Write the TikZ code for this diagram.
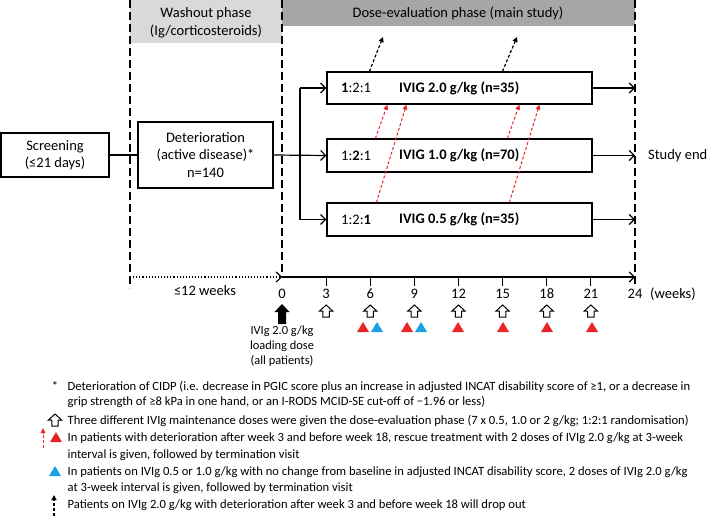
\documentclass[tikz,border=0pt]{standalone}
\usepackage{fontspec}
\setmainfont{Carlito}
\usetikzlibrary{arrows.meta,calc}
\definecolor{lgray}{HTML}{D9D9D9}
\definecolor{dgray}{HTML}{A6A6A6}
\definecolor{myred}{HTML}{E8262A}
\definecolor{myblue}{HTML}{1BA1E2}
\tikzset{
  box/.style={draw, line width=1.2pt, fill=white, inner sep=0pt, align=center, font=\fontsize{14.5}{17.5}\selectfont},
  txt/.style={inner sep=0pt, font=\fontsize{14.5}{17.5}\selectfont},
  conn/.style={line width=1.2pt, -{Straight Barb[length=5pt,width=10pt]}},
  phaseline/.style={line width=1.5pt, dash pattern=on 8pt off 4pt},
  rescue/.style={myred, line width=1pt, dash pattern=on 3pt off 2pt, -{Triangle[length=5pt,width=4.5pt]}},
  dropout/.style={black, line width=1.2pt, dash pattern=on 3pt off 2pt, -{Triangle[length=5pt,width=5pt]}},
  leg/.style={inner sep=0pt, anchor=west, font=\fontsize{12.6}{16}\selectfont, text height=9pt, text depth=3pt},
  openup/.pic={\draw[line width=1pt, fill=white] (0,0) -- (6.5,6) -- (3.2,6) -- (3.2,12) -- (-3.2,12) -- (-3.2,6) -- (-6.5,6) -- cycle;},
  blackup/.pic={\fill[black] (0,0) -- (7.5,8) -- (4,8) -- (4,20) -- (-4,20) -- (-4,8) -- (-7.5,8) -- cycle;},
  tri/.pic={\fill (0,0) -- (6,10) -- (-6,10) -- cycle;}
}
\begin{document}
\begin{tikzpicture}[x=1pt,y=-1pt]
\useasboundingbox (0,0) rectangle (709,516);
% phase headers
\fill[lgray] (130,0) rectangle (282,43);
\fill[dgray] (282,0) rectangle (635,26);
\node[txt, align=center] (wash) at (206,22.5) {Washout phase\\(Ig/corticosteroids)};
\node[txt] (dose) at (458,13) {Dose-evaluation phase (main study)};
% phase boundaries
\coordinate (l1t) at (130,0); \coordinate (l1b) at (130,288);
\coordinate (l2t) at (282,0); \coordinate (l2b) at (282,277);
\coordinate (l3t) at (635,0); \coordinate (l3b) at (635,288);
\draw[phaseline] (l1t) -- (l1b);
\draw[phaseline] (l2t) -- (l2b);
\draw[phaseline] (l3t) -- (l3b);
% boxes
\node[box, minimum width=108pt, minimum height=44pt] (scr) at (55,155) {Screening\\(≤21 days)};
\node[box, minimum width=135pt, minimum height=66pt] (det) at (205.5,155) {Deterioration\\(active disease)*\\n=140};
\node[box, minimum width=265pt, minimum height=32pt] (b1) at (459.5,88) {};
\node[box, minimum width=265pt, minimum height=33pt] (b2) at (459.5,155.5) {};
\node[box, minimum width=265pt, minimum height=33pt] (b3) at (459.5,219.5) {};
\node[txt, anchor=west] (r1) at (341,88) {\textbf{1}:2:1};
\node[txt, anchor=west] (r2) at (341,155.5) {1:\textbf{2}:1};
\node[txt, anchor=west] (r3) at (341,219.5) {1:2:\textbf{1}};
\node[txt, anchor=west, font=\fontsize{14.5}{17.5}\selectfont\bfseries] (d1) at (399,88) {IVIG 2.0 g/kg (n=35)};
\node[txt, anchor=west, font=\fontsize{14.5}{17.5}\selectfont\bfseries] (d2) at (399,155.5) {IVIG 1.0 g/kg (n=70)};
\node[txt, anchor=west, font=\fontsize{14.5}{17.5}\selectfont\bfseries] (d3) at (399,219.5) {IVIG 0.5 g/kg (n=35)};
% connectors
\coordinate (br) at (300,155);
\draw[line width=1.2pt] (scr.east) -- (det.west);
\draw[conn] (det.east) -- (b2.west);
\draw[conn] (br |- b1.west) -- (b1.west);
\draw[conn] (br |- b1.west) |- (b3.west);
\draw[conn] (b1.east) -- (b1.east -| l3t);
\draw[conn] (b2.east) -- (b2.east -| l3t);
\draw[conn] (b3.east) -- (b3.east -| l3t);
\node[txt, anchor=west] (end) at (648,155.5) {Study end};
% rescue arrows
\draw[rescue] ($(b2.north west)+(49,0)$) -- ($(b1.south west)+(61,0)$);
\draw[rescue] ($(b3.north west)+(50,0)$) -- ($(b1.south west)+(80,0)$);
\draw[rescue] ($(b2.north west)+(181,0)$) -- ($(b1.south west)+(193,0)$);
\draw[rescue] ($(b3.north west)+(183,0)$) -- ($(b1.south west)+(213,0)$);
% dropout arrows
\coordinate (o1) at (383,37);
\coordinate (o2) at (517,37);
\draw[dropout] ($(b1.north west)+(43,0)$) -- (o1);
\draw[dropout] ($(b1.north west)+(176,0)$) -- (o2);
% timeline
\coordinate (t0) at (282,277);
\coordinate (t24) at (635,277);
\draw[line width=1.1pt, dotted, -{Straight Barb[length=5pt,width=10pt]}] (l1b |- t0) -- (t0);
\draw[conn] (t0) -- (t24);
\foreach \w in {3,6,...,21} \draw[line width=1.2pt] (282+14.708*\w,277) -- ++(0,9);
\foreach \w in {0,3,...,24} \node[txt] at (282+14.708*\w,294) {\w};
\node[txt] (wk12) at (205,291) {≤12 weeks};
\node[txt, anchor=west] (weeks) at (650,294) {(weeks)};
% markers
\pic at (282,304) {blackup};
\foreach \w in {3,6,...,21} \pic at (282+14.708*\w,305) {openup};
\foreach \xx in {363,407,458,503,547,592} \pic[myred] at (\xx,322) {tri};
\foreach \xx in {377,421} \pic[myblue] at (\xx,322) {tri};
\node[inner sep=0pt, align=center, font=\fontsize{12.4}{15}\selectfont, anchor=north] (load) at (282,326) {IVIg 2.0 g/kg\\loading dose\\(all patients)};
% legend
\node[leg, anchor=center] (star) at (55,387) {*};
\node[leg] (L1a) at (67.5,387) {Deterioration of CIDP (i.e. decrease in PGIC score plus an increase in adjusted INCAT disability score of ≥1, or a decrease in};
\node[leg] (L1b) at (67.5,402) {grip strength of ≥8 kPa in one hand, or an I-RODS MCID-SE cut-off of −1.96 or less)};
\pic at (55,414) {openup};
\node[leg] (L2) at (67.5,421) {Three different IVIg maintenance doses were given the dose-evaluation phase (7 x 0.5, 1.0 or 2 g/kg; 1:2:1 randomisation)};
\coordinate (ra) at (43,448); \coordinate (rb) at (43,428);
\draw[rescue] (ra) -- (rb);
\pic[myred] at (56,432) {tri};
\node[leg] (L3a) at (67.5,438) {In patients with deterioration after week 3 and before week 18, rescue treatment with 2 doses of IVIg 2.0 g/kg at 3-week};
\node[leg] (L3b) at (67.5,455) {interval is given, followed by termination visit};
\pic[myblue] at (55,466) {tri};
\node[leg] (L4a) at (67.5,472) {In patients on IVIg 0.5 or 1.0 g/kg with no change from baseline in adjusted INCAT disability score, 2 doses of IVIg 2.0 g/kg};
\node[leg] (L4b) at (67.5,488) {at 3-week interval is given, followed by termination visit};
\coordinate (da) at (54,516); \coordinate (db) at (54,495);
\draw[dropout] (da) -- (db);
\node[leg] (L5) at (67.5,505) {Patients on IVIg 2.0 g/kg with deterioration after week 3 and before week 18 will drop out};
\end{tikzpicture}
\end{document}
